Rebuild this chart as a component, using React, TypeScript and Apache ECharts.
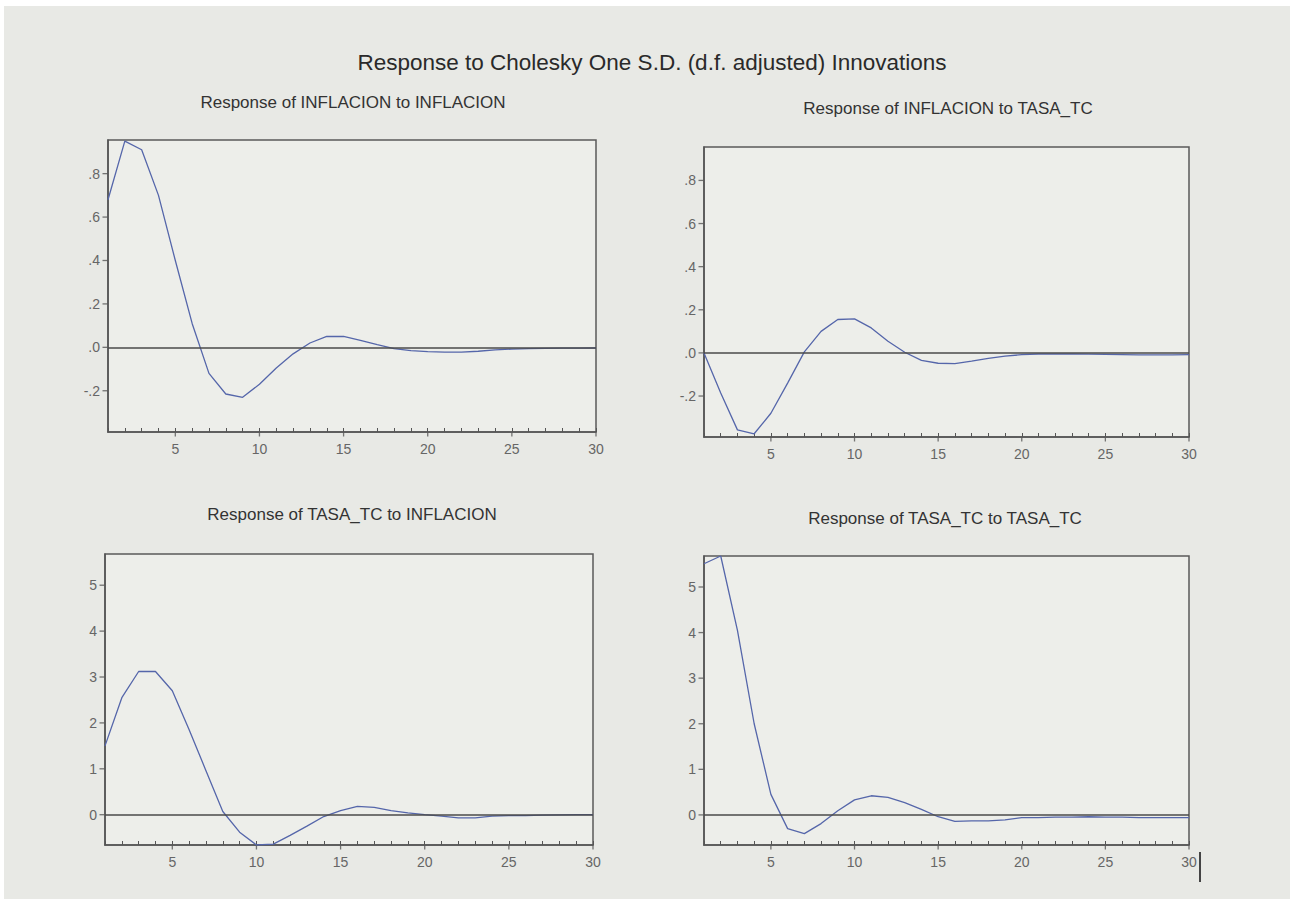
import React, { useEffect, useRef } from "react";
import * as echarts from "echarts";

const periods = [1, 2, 3, 4, 5, 6, 7, 8, 9, 10, 11, 12, 13, 14, 15, 16, 17, 18, 19, 20, 21, 22, 23, 24, 25, 26, 27, 28, 29, 30];

const inflToInfl = [0.68, 0.95, 0.91, 0.7, 0.4, 0.11, -0.12, -0.215, -0.23, -0.17, -0.095, -0.03, 0.02, 0.05, 0.05, 0.032, 0.012, -0.006, -0.015, -0.02, -0.022, -0.022, -0.018, -0.012, -0.008, -0.006, -0.005, -0.004, -0.004, -0.003];
const inflToTasa = [0, -0.186, -0.357, -0.375, -0.28, -0.14, 0.005, 0.1, 0.155, 0.158, 0.116, 0.054, 0.003, -0.035, -0.048, -0.05, -0.038, -0.025, -0.015, -0.008, -0.005, -0.005, -0.005, -0.006, -0.007, -0.008, -0.009, -0.009, -0.009, -0.008];
const tasaToInfl = [1.5, 2.55, 3.12, 3.12, 2.7, 1.85, 0.96, 0.07, -0.38, -0.66, -0.64, -0.45, -0.25, -0.04, 0.09, 0.18, 0.16, 0.09, 0.04, 0.0, -0.03, -0.07, -0.07, -0.03, -0.02, -0.02, -0.01, -0.005, 0.0, 0.0];
const tasaToTasa = [5.51, 5.68, 4.05, 2.0, 0.45, -0.3, -0.41, -0.19, 0.09, 0.33, 0.42, 0.385, 0.27, 0.12, -0.04, -0.14, -0.13, -0.13, -0.11, -0.06, -0.06, -0.05, -0.05, -0.04, -0.05, -0.05, -0.06, -0.06, -0.06, -0.06];

const smallTicks = [-0.2, 0, 0.2, 0.4, 0.6, 0.8];
const largeTicks = [0, 1, 2, 3, 4, 5];
const xLabelTicks = [5, 10, 15, 20, 25, 30];

const mainTitle = "Response to Cholesky One S.D. (d.f. adjusted) Innovations";
const panelTitles = [
  "Response of INFLACION to INFLACION",
  "Response of INFLACION to TASA_TC",
  "Response of TASA_TC to INFLACION",
  "Response of TASA_TC to TASA_TC",
];

const FONT = "Liberation Sans, Arial, sans-serif";

export default function App() {
  const ref = useRef<HTMLDivElement>(null);
  useEffect(() => {
    if (!ref.current) return;
    const chart = echarts.init(ref.current, null, { renderer: "svg" });

    const grids = [
      { left: 108, top: 140, width: 488, height: 292 },
      { left: 704, top: 147, width: 485, height: 290 },
      { left: 105, top: 554, width: 488, height: 291 },
      { left: 704, top: 556, width: 485, height: 289 },
    ];
    const series = [inflToInfl, inflToTasa, tasaToInfl, tasaToTasa];
    const rowRange = [
      { min: -0.39, max: 0.955, ticks: smallTicks, small: true },
      { min: -0.39, max: 0.955, ticks: smallTicks, small: true },
      { min: -0.66, max: 5.68, ticks: largeTicks, small: false },
      { min: -0.66, max: 5.68, ticks: largeTicks, small: false },
    ];

    const fmtSmall = (v: number) => {
      if (Math.abs(v) < 1e-9) return ".0";
      const s = Math.abs(v).toFixed(1).replace(/^0/, "");
      return (v < 0 ? "-" : "") + s;
    };

    const lineSeries = series.map((vals, i) => ({
      type: "line",
      xAxisIndex: i,
      yAxisIndex: i,
      data: periods.map((p, j) => [p, vals[j]]),
      showSymbol: false,
      symbol: "none",
      clip: true,
      z: 3,
      lineStyle: { color: "#5566aa", width: 1.3 },
      markLine: {
        silent: true,
        symbol: "none",
        label: { show: false },
        lineStyle: { color: "#4a4a4a", width: 1.5, type: "solid" },
        data: [{ yAxis: 0 }],
      },
    }));

    // y-axis tick marks (outside, at labelled values)
    const yTickSeries = grids.map((_, i) => ({
      type: "scatter",
      xAxisIndex: i,
      yAxisIndex: i,
      silent: true,
      clip: false,
      symbol: "rect",
      symbolSize: [5, 1.3],
      symbolOffset: [-3, 0],
      itemStyle: { color: "#555" },
      data: rowRange[i].ticks.map((t) => [1, t]),
    }));

    // major x ticks extending below the axis at labelled values
    const xTickSeries = grids.map((_, i) => ({
      type: "scatter",
      xAxisIndex: i,
      yAxisIndex: i,
      silent: true,
      clip: false,
      symbol: "rect",
      symbolSize: [1.3, 4],
      symbolOffset: [0, 2.5],
      itemStyle: { color: "#555" },
      data: xLabelTicks.map((t) => [t, rowRange[i].min]),
    }));

    const option: any = {
      animation: false,
      backgroundColor: "#e8e9e5",
      grid: grids.map((g) => ({
        ...g,
        show: true,
        borderColor: "#5a5a5a",
        borderWidth: 1.5,
        backgroundColor: "#edeeea",
      })),
      xAxis: grids.map((_, i) => ({
        type: "value",
        gridIndex: i,
        min: 1,
        max: 30,
        interval: 1,
        axisLine: { show: true, onZero: false, lineStyle: { color: "#555", width: 1.5 } },
        axisTick: { show: true, inside: true, length: 4, lineStyle: { color: "#555" } },
        splitLine: { show: false },
        axisLabel: {
          color: "#666",
          fontFamily: FONT,
          fontSize: 14,
          margin: 10,
          customValues: xLabelTicks,
          formatter: (v: number) => String(v),
        },
      })),
      yAxis: grids.map((_, i) => ({
        type: "value",
        gridIndex: i,
        min: rowRange[i].min,
        max: rowRange[i].max,
        axisLine: { show: true, lineStyle: { color: "#555", width: 1.5 } },
        axisTick: { show: false },
        splitLine: { show: false },
        axisLabel: {
          color: "#666",
          fontFamily: FONT,
          fontSize: 14,
          margin: 8,
          customValues: rowRange[i].ticks,
          formatter: (v: number) => (rowRange[i].small ? fmtSmall(v) : String(Math.round(v))),
        },
      })),
      series: [...lineSeries, ...yTickSeries, ...xTickSeries],
      graphic: [
        { type: "rect", shape: { x: 0, y: 0, width: 1290, height: 6 }, style: { fill: "#ffffff" } },
        { type: "rect", shape: { x: 0, y: 0, width: 4, height: 899 }, style: { fill: "#ffffff" } },
        {
          type: "text",
          x: 652,
          y: 62,
          style: {
            text: mainTitle,
            fill: "#2a2a2a",
            font: `22.5px ${FONT}`,
            textAlign: "center",
            textVerticalAlign: "middle",
          },
        },
        ...[
          [353, 102],
          [948, 108],
          [352, 514],
          [945, 518],
        ].map(([x, y], i) => ({
          type: "text",
          x,
          y,
          style: {
            text: panelTitles[i],
            fill: "#333333",
            font: `17px ${FONT}`,
            textAlign: "center",
            textVerticalAlign: "middle",
          },
        })),
        {
          type: "line",
          shape: { x1: 1200, y1: 852, x2: 1200, y2: 882 },
          style: { stroke: "#444", lineWidth: 2 },
        },
      ],
    };
    chart.setOption(option);
    return () => chart.dispose();
  }, []);
  return (
    <div
      ref={ref}
      style={{ position: "fixed", left: 0, top: 0, width: 1290, height: 899 }}
    />
  );
}
